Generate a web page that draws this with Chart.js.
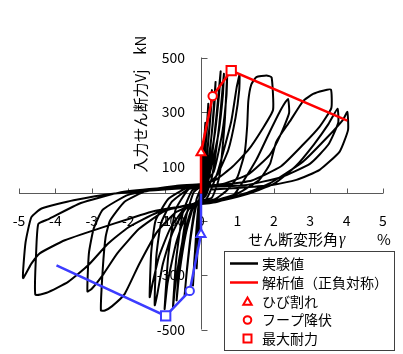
<!DOCTYPE html>
<html>
<head>
<meta charset="utf-8">
<script src="https://cdn.jsdelivr.net/npm/chart.js"></script>
<style>
  html, body { margin: 0; padding: 0; background: #fff; }
  #wrap { width: 403px; height: 354px; position: relative; }
</style>
</head>
<body>
<div id="wrap"><canvas id="c" width="403" height="354"></canvas></div>
<script>
// Axis ticks
const xTicks = [-5, -4, -3, -2, -1, 0, 1, 2, 3, 4, 5];
const yTicks = [500, 300, 100, -100, -300, -500];

// Analytical skeleton curve (positive side): origin, cracking, hoop yield, max strength, end
const analysisPosGamma = [0, 0, 0.32, 0.83, 4.02];
const analysisPosV     = [0, 150, 358, 452, 268];
// Same skeleton mirrored to the negative side
const analysisNegGamma = [0, 0, -0.31, -0.97, -3.97];
const analysisNegV     = [0, -150, -358, -450, -264];
const analysisMarkers  = ['circle', 'triangle', 'circle', 'rect', 'circle'];

// Test results: shear strain γ (%) vs joint shear force Vj (kN), cycle by cycle
const cycle01 = [[0,0],[0.01,60],[0.03,130],[0.04,150],[0.03,110],[0.01,40],[-0.01,-20],[-0.03,-100],[-0.05,-150],[-0.04,-110],[-0.02,-40],[0,5]];
const cycle02 = [[0.03,40],[0.07,150],[0.11,240],[0.12,260],[0.1,200],[0.06,100],[0.02,20],[-0.03,-40],[-0.08,-160],[-0.11,-250],[-0.12,-275],[-0.1,-200],[-0.06,-100],[-0.02,-20]];
const cycle03 = [[0.05,20],[0.1,120],[0.16,240],[0.2,330],[0.18,270],[0.12,160],[0.06,60],[0,15],[-0.06,-30],[-0.13,-140],[-0.19,-270],[-0.22,-338],[-0.19,-260],[-0.12,-130],[-0.05,-30]];
const cycle04 = [[0.06,10],[0.15,120],[0.24,260],[0.3,380],[0.28,320],[0.2,190],[0.1,60],[0,20],[-0.12,-20],[-0.26,-130],[-0.38,-270],[-0.45,-374],[-0.4,-300],[-0.28,-160],[-0.12,-40]];
const cycle05 = [[0.08,0],[0.2,100],[0.32,260],[0.4,410],[0.37,330],[0.27,190],[0.12,60],[-0.02,25],[-0.2,5],[-0.4,-80],[-0.58,-250],[-0.67,-393],[-0.6,-300],[-0.42,-150],[-0.2,-45]];
const cycle06 = [[0.1,-5],[0.25,80],[0.42,280],[0.54,449],[0.5,370],[0.38,220],[0.18,70],[0,30],[-0.25,10],[-0.5,-70],[-0.68,-240],[-0.77,-418],[-0.7,-330],[-0.5,-170],[-0.25,-55]];
const cycle07 = [[0.12,-10],[0.3,60],[0.5,250],[0.63,440],[0.6,360],[0.48,220],[0.25,80],[0,30],[-0.35,15],[-0.7,-60],[-0.9,-230],[-1.0,-425],[-0.92,-330],[-0.68,-180],[-0.35,-60]];
const cycle08 = [[0.15,-20],[0.46,80],[0.83,265],[0.98,390],[1.06,437],[1.05,380],[0.95,280],[0.75,160],[0.45,70],[0.15,30],[-0.3,20],[-0.8,-30],[-1.1,-110],[-1.22,-220],[-1.26,-330],[-1.27,-411],[-1.2,-370],[-1.05,-260],[-0.8,-150],[-0.45,-60],[-0.1,-30]];
const cycle09 = [[0.3,-15],[0.5,60],[0.65,260],[0.72,440],[0.7,360],[0.58,220],[0.35,80],[0.05,35],[-0.4,20],[-0.9,-20],[-1.25,-100],[-1.37,-220],[-1.41,-381],[-1.33,-330],[-1.15,-230],[-0.85,-130],[-0.45,-55],[0,-35]];
const cycle10 = [[0.4,-20],[0.7,10],[1.0,60],[1.2,150],[1.27,250],[1.3,340],[1.38,400],[1.52,428],[1.8,434],[1.94,427],[1.98,308],[1.7,240],[1.3,160],[0.87,99],[0.4,50],[0,35],[-0.7,28],[-1.5,10],[-2.1,-30],[-2.5,-100],[-2.62,-160],[-2.7,-280],[-2.75,-430],[-2.64,-430],[-2.45,-415],[-2.1,-370],[-1.7,-260],[-1.2,-140],[-0.7,-70],[-0.2,-40],[0.3,-30]];
const cycle11 = [[0.9,-5],[1.52,124],[1.9,230],[2.2,310],[2.39,348],[2.42,296],[2.2,220],[1.89,142],[1.3,70],[0.6,35],[0,28],[-1.0,18],[-2.0,-5],[-2.7,-60],[-2.95,-130],[-3.08,-220],[-3.12,-360],[-3.0,-350],[-2.7,-300],[-2.3,-220],[-1.7,-130],[-1.0,-65],[-0.3,-40],[0.4,-25]];
const cycle12 = [[1.0,0],[1.6,50],[1.9,110],[2.07,191],[2.44,265],[2.8,339],[3.08,366],[3.35,378],[3.57,382],[3.58,314],[3.26,246],[2.8,179],[2.2,100],[1.4,48],[0.5,30],[0,25],[-1.0,20],[-2.2,5],[-3.3,-35],[-4.2,-95],[-4.47,-112],[-4.53,-220],[-4.55,-372],[-4.24,-365],[-3.65,-325],[-3.1,-264],[-2.55,-184],[-2.0,-125],[-1.2,-70],[-0.4,-45],[0.4,-30]];
const cycle13 = [[1.2,-5],[2.0,35],[2.6,100],[3.1,180],[3.5,255],[3.75,312],[3.77,260],[3.5,180],[3.0,110],[2.2,60],[1.2,30],[0.2,25],[-1.0,15],[-2.37,0],[-3.5,-25],[-4.38,-55],[-4.66,-87],[-4.82,-180],[-4.89,-311],[-4.66,-258],[-4.43,-220],[-3.74,-172],[-2.37,-110],[-1.3,-65],[-0.4,-45],[0.4,-32]];
const cycle14 = [[1.2,0],[1.9,38],[2.8,117],[3.45,204],[3.9,271],[4.02,300],[4.04,234],[3.81,154],[3.26,87],[2.62,50],[1.89,30],[1.0,20],[0.3,15]];

const testCycles = [cycle01, cycle02, cycle03, cycle04, cycle05, cycle06, cycle07,
                    cycle08, cycle09, cycle10, cycle11, cycle12, cycle13, cycle14];

const legendLabels = ['実験値', '解析値（正負対称）', 'ひび割れ', 'フープ降伏', '最大耐力'];

const RED = '#ff0000';
const BLUE = '#3c3cff';
const AXIS = '#595959';
const FONT = "'Noto Sans CJK JP', 'Noto Sans', sans-serif";

const testPath = [];
testCycles.forEach(c => c.forEach(p => testPath.push({x: p[0], y: p[1]})));
const posSkeleton = analysisPosGamma.map((g, i) => ({x: g, y: analysisPosV[i]}));
const negSkeleton = analysisNegGamma.map((g, i) => ({x: g, y: analysisNegV[i]}));
const markerRadius = {circle: 4.2, triangle: 5.2, rect: 6.6};

function markerRadii(styles) {
  return styles.map((s, i) => (i === 0 || i === styles.length - 1) ? 0 : markerRadius[s]);
}

function drawMarker(ctx, style, x, y, color) {
  ctx.save();
  ctx.strokeStyle = color;
  ctx.fillStyle = '#fff';
  ctx.lineWidth = 2;
  ctx.beginPath();
  if (style === 'triangle') {
    const r = markerRadius.triangle * 0.85;
    ctx.moveTo(x, y - r);
    ctx.lineTo(x + r * 0.95, y + r * 0.65);
    ctx.lineTo(x - r * 0.95, y + r * 0.65);
    ctx.closePath();
  } else if (style === 'circle') {
    ctx.arc(x, y, 3.8, 0, Math.PI * 2);
  } else {
    ctx.rect(x - 4, y - 4, 8, 8);
  }
  ctx.fill();
  ctx.stroke();
  ctx.restore();
}

// Axes crossing at the origin, inward tick marks and tick labels
const crossAxes = {
  id: 'crossAxes',
  beforeDatasetsDraw(chart) {
    const {ctx, scales: {x, y}} = chart;
    const x0 = Math.round(x.getPixelForValue(0)) + 0.5;
    const y0 = Math.round(y.getPixelForValue(0)) - 0.5;
    ctx.save();
    ctx.strokeStyle = AXIS;
    ctx.lineWidth = 1;
    ctx.beginPath();
    ctx.moveTo(x.getPixelForValue(xTicks[0]), y0);
    ctx.lineTo(x.getPixelForValue(xTicks[xTicks.length - 1]), y0);
    ctx.moveTo(x0, y.getPixelForValue(yTicks[0]));
    ctx.lineTo(x0, y.getPixelForValue(yTicks[yTicks.length - 1]));
    xTicks.forEach(t => {
      const px = Math.round(x.getPixelForValue(t)) + 0.5;
      ctx.moveTo(px, y0);
      ctx.lineTo(px, y0 - 5);
    });
    yTicks.forEach(t => {
      const py = Math.round(y.getPixelForValue(t)) + 0.5;
      ctx.moveTo(x0, py);
      ctx.lineTo(x0 + 6, py);
    });
    ctx.stroke();

    ctx.fillStyle = '#000';
    ctx.font = '14px ' + FONT;
    ctx.textBaseline = 'middle';
    ctx.textAlign = 'center';
    xTicks.forEach(t => ctx.fillText(String(t), x.getPixelForValue(t), y0 + 27.5));
    ctx.textAlign = 'right';
    yTicks.forEach(t => ctx.fillText(String(t), x0 - 16.5, y.getPixelForValue(t)));
    ctx.restore();
  },
  afterDraw(chart) {
    const {ctx} = chart;
    ctx.save();
    // axis titles
    ctx.fillStyle = '#000';
    ctx.font = '15px ' + FONT;
    ctx.textBaseline = 'middle';
    ctx.save();
    ctx.translate(140, 104);
    ctx.rotate(-Math.PI / 2);
    ctx.textAlign = 'center';
    ctx.fillText('入力せん断力Vj　kN', 0, 0);
    ctx.restore();
    ctx.textAlign = 'left';
    ctx.fillText('せん断変形角', 248, 239);
    ctx.font = "italic 16px 'Liberation Serif', serif";
    ctx.fillText('γ', 339, 240);
    ctx.font = '15px ' + FONT;
    ctx.fillText('%', 377, 239);

    // legend box
    const bx = 224.5, by = 251.5, bw = 170, bh = 99;
    ctx.fillStyle = '#fff';
    ctx.fillRect(bx, by, bw, bh);
    ctx.strokeStyle = '#404040';
    ctx.lineWidth = 1;
    ctx.strokeRect(bx, by, bw, bh);
    const rows = [263.5, 282.5, 301.5, 320, 338.5];
    ctx.lineWidth = 2.5;
    ctx.strokeStyle = '#000';
    ctx.beginPath(); ctx.moveTo(230, rows[0]); ctx.lineTo(258, rows[0]); ctx.stroke();
    ctx.strokeStyle = RED;
    ctx.beginPath(); ctx.moveTo(230, rows[1]); ctx.lineTo(258, rows[1]); ctx.stroke();
    drawMarker(ctx, 'triangle', 247.5, rows[2] + 0.5, RED);
    drawMarker(ctx, 'circle', 247.5, rows[3], RED);
    drawMarker(ctx, 'rect', 247.5, rows[4], RED);
    ctx.fillStyle = '#000';
    ctx.font = '14px ' + FONT;
    ctx.textAlign = 'left';
    ctx.textBaseline = 'middle';
    legendLabels.forEach((t, i) => ctx.fillText(t, 262, rows[i]));
    ctx.restore();
  }
};

new Chart(document.getElementById('c'), {
  type: 'scatter',
  data: {
    datasets: [
      {
        label: legendLabels[1],
        data: posSkeleton,
        showLine: true,
        borderColor: RED,
        borderWidth: 2.5,
        tension: 0,
        pointStyle: analysisMarkers,
        pointRadius: markerRadii(analysisMarkers),
        pointBackgroundColor: '#fff',
        pointBorderColor: RED,
        pointBorderWidth: 2,
        order: 0
      },
      {
        label: legendLabels[1],
        data: negSkeleton,
        showLine: true,
        borderColor: BLUE,
        borderWidth: 2.5,
        tension: 0,
        pointStyle: analysisMarkers,
        pointRadius: markerRadii(analysisMarkers),
        pointBackgroundColor: '#fff',
        pointBorderColor: BLUE,
        pointBorderWidth: 2,
        order: 1
      },
      {
        label: legendLabels[0],
        data: testPath,
        showLine: true,
        borderColor: '#000',
        borderWidth: 2,
        tension: 0.15,
        pointRadius: 0,
        order: 2
      }
    ]
  },
  options: {
    responsive: false,
    animation: false,
    devicePixelRatio: 1,
    layout: { padding: { left: 19, right: 20, top: 57.5, bottom: 24.5 } },
    scales: {
      x: { type: 'linear', min: -5, max: 5, display: false },
      y: { type: 'linear', min: -500, max: 500, display: false }
    },
    plugins: { legend: { display: false }, tooltip: { enabled: false } }
  },
  plugins: [crossAxes]
});
</script>
</body>
</html>
